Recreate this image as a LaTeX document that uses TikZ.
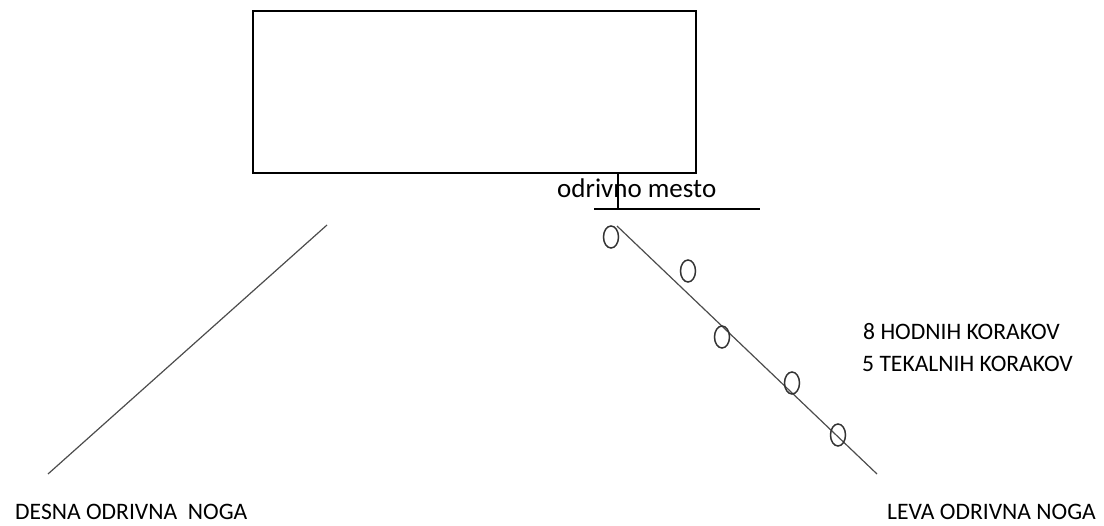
\documentclass[tikz,border=0pt]{standalone}
\usepackage{fontspec}
\setmainfont{Carlito}
\usetikzlibrary{shapes.geometric, positioning}
\tikzstyle{plankbox} = [rectangle, draw=black, line width=1.6pt, minimum width=443pt, minimum height=162pt, anchor=north west]
\tikzstyle{caption} = [font=\fontsize{23.6}{28}\selectfont, inner sep=0pt, anchor=base west]
\tikzstyle{stepmark} = [ellipse, draw=black!80, line width=1.5pt, minimum width=15pt, minimum height=22pt, inner sep=0pt]
\tikzstyle{leg} = [draw=black!70, line width=1.2pt]

\begin{document}
\begin{tikzpicture}[x=1pt, y=-1pt]
        \useasboundingbox (0,0) rectangle (1104,526);
        \node (plank) [plankbox] at (252,10) {};
        \coordinate (post) at (618,209);
        \coordinate (runwayL) at (594,209);
        \coordinate (runwayR) at (760,209);
        \node (mesto) [caption, font=\fontsize{27}{32}\selectfont] at (557,198) {odrivno mesto};
        
        \draw[line width=1.2pt] (plank.south -| post) -- (post);
        \draw[line width=1.2pt] (runwayL) -- (runwayR);
        
        % legs
        \coordinate (desnaTop) at (327,225);
        \coordinate (desnaFoot) at (48,474);
        \coordinate (levaTop) at (617,226);
        \coordinate (levaFoot) at (877,474);
        \draw[leg] (desnaTop) -- (desnaFoot);
        \draw[leg] (levaTop) -- (levaFoot);
        
        % steps
        \foreach \i/\x/\y in {1/611/237, 2/688/271, 3/722/337, 4/792/383, 5/838/435}
            \node (step\i) [stepmark] at (\x,\y) {};
        
        \node (hodni) [caption] at (863,340) {8 HODNIH KORAKOV};
        \node (tekalni) [caption] at (862,372) {5 TEKALNIH KORAKOV};
        \node (desna) [caption] at (15,520) {DESNA ODRIVNA\ \ NOGA};
        \node (leva) [caption] at (887,520) {LEVA ODRIVNA NOGA};
    \end{tikzpicture}
\end{document}
